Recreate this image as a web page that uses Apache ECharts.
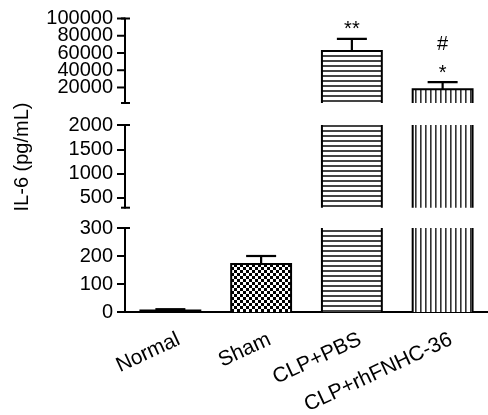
<!DOCTYPE html>
<html>
<head>
<meta charset="utf-8">
<script src="https://cdn.jsdelivr.net/npm/echarts@6/dist/echarts.min.js"></script>
<style>html,body{margin:0;padding:0;background:#fff}#c{width:488px;height:415px}</style>
</head>
<body>
<div id="c"></div>
<script>
const categories = ['Normal', 'Sham', 'CLP+PBS', 'CLP+rhFNHC-36'];
const means = [5, 171, 62300, 18000];
const errors = [5, 29, 14000, 8300];
const annotations = ['', '', '**', '#\n*'];
const lowTicks = [0, 100, 200, 300];
const midTicks = [500, 1000, 1500, 2000];
const topTicks = [20000, 40000, 60000, 80000, 100000];
const lowRange = [0, 300];
const midRange = [300, 2000];
const topRange = [2000, 100000];
const yName = 'IL-6 (pg/mL)';

const FONT = 'Liberation Sans, Arial, sans-serif';

function makeCanvas(w, h, draw) {
  const c = document.createElement('canvas');
  c.width = w; c.height = h;
  const ctx = c.getContext('2d');
  ctx.fillStyle = '#fff'; ctx.fillRect(0, 0, w, h);
  draw(ctx);
  return c;
}
const checker = makeCanvas(6, 6, ctx => { ctx.fillStyle = '#000'; ctx.fillRect(0, 0, 3, 3); ctx.fillRect(3, 3, 3, 3); });
const hStripe = makeCanvas(8, 5, ctx => { ctx.fillStyle = '#444'; ctx.fillRect(0, 0, 8, 2); });
const vStripe = makeCanvas(5, 8, ctx => { ctx.fillStyle = '#333'; ctx.fillRect(0, 0, 1.6, 8); });
const fills = ['#000', { image: checker, repeat: 'repeat' }, { image: hStripe, repeat: 'repeat' }, { image: vStripe, repeat: 'repeat' }];

const data = categories.map((c, i) => [i, means[i], errors[i]]);

const grids = [
  { left: 125, right: -11, top: 228, height: 84 },
  { left: 125, right: -11, top: 125, height: 82.7 },
  { left: 125, right: -11, top: 18.5, height: 84.5 }
];
const ranges = [lowRange, midRange, topRange];
const ticks = [lowTicks, midTicks, topTicks];

const xAxes = grids.map((g, k) => ({
  type: 'category', gridIndex: k, data: categories, show: k === 0,
  axisLine: { lineStyle: { color: '#000', width: 2 } },
  axisTick: { alignWithLabel: true, length: 9, lineStyle: { color: '#000', width: 2 } },
  axisLabel: { show: false }
}));
const yAxes = grids.map((g, k) => ({
  type: 'value', gridIndex: k, min: ranges[k][0], max: ranges[k][1],
  splitLine: { show: false },
  axisLine: { show: true, lineStyle: { color: '#000', width: 2 } },
  axisTick: { show: k < 2, length: 8, lineStyle: { color: '#000', width: 2 }, customValues: ticks[k] },
  axisLabel: { show: k < 2, fontSize: 20, fontFamily: FONT, color: '#000', margin: 12, customValues: ticks[k],
    showMinLabel: true, showMaxLabel: true, formatter: v => String(v) }
}));

function barRender(params, api) {
  const i = api.value(0), v = api.value(1);
  const cs = params.coordSys;
  const p = api.coord([i, v]);
  const w = api.size([1, 0])[0] * 0.66;
  const bottom = cs.y + cs.height + 10;
  const top = Math.max(p[1], cs.y - 10);
  if (top > cs.y + cs.height) return;
  return { type: 'rect', shape: { x: p[0] - w / 2, y: top, width: w, height: bottom - top },
    style: { fill: fills[i], stroke: '#000', lineWidth: 2 } };
}
function errRender(params, api) {
  const i = api.value(0), v = api.value(1), e = api.value(2);
  const a = api.coord([i, v]), b = api.coord([i, v + e]);
  return { type: 'group', children: [
    { type: 'line', shape: { x1: a[0], y1: a[1], x2: b[0], y2: b[1] }, style: { stroke: '#000', lineWidth: 2.2 } },
    { type: 'line', shape: { x1: b[0] - 15, y1: b[1], x2: b[0] + 15, y2: b[1] }, style: { stroke: '#000', lineWidth: 2.2 } }
  ] };
}
function annRender(params, api) {
  const i = api.value(0), v = api.value(1), e = api.value(2);
  const txt = annotations[i];
  if (!txt) return;
  const b = api.coord([i, v + e]);
  const lines = txt.split('\n').reverse();
  return { type: 'group', children: lines.map((t, j) => ({ type: 'text', x: b[0], y: b[1] - 9 - j * 29,
    style: { text: t, fontSize: 20, fontFamily: FONT, fill: '#000', align: 'center', verticalAlign: 'middle' } })) };
}
function xLabelRender(params, api) {
  const i = api.value(0);
  const cs = params.coordSys;
  const p = api.coord([i, 0]);
  return { type: 'text', x: p[0] + 4, y: cs.y + cs.height + 17, rotation: 25 * Math.PI / 180,
    style: { text: categories[i], fontSize: 21, fontFamily: FONT, fill: '#000', align: 'right', verticalAlign: 'top' } };
}
function yTickRender(params, api) {
  const v = api.value(1);
  const cs = params.coordSys;
  const y = api.coord([0, v])[1];
  return { type: 'group', children: [
    { type: 'line', shape: { x1: cs.x - 8, y1: y, x2: cs.x, y2: y }, style: { stroke: '#000', lineWidth: 2 } },
    { type: 'text', x: cs.x - 12, y: y, style: { text: String(v), fontSize: 20, fontFamily: FONT, fill: '#000', align: 'right', verticalAlign: 'middle' } }
  ] };
}
function capRender(k) {
  return function (params, api) {
    const cs = params.coordSys;
    const ys = [cs.y];
    if (k > 0) ys.push(cs.y + cs.height);
    return { type: 'group', children: ys.map(y => ({ type: 'line',
      shape: { x1: cs.x - 4, y1: y, x2: cs.x + 5, y2: y }, style: { stroke: '#000', lineWidth: 2 } })) };
  };
}

const series = [];
grids.forEach((g, k) => {
  series.push({ type: 'custom', xAxisIndex: k, yAxisIndex: k, data: data, clip: true, renderItem: barRender, encode: { x: 0, y: 1 }, z: 2 });
  series.push({ type: 'custom', xAxisIndex: k, yAxisIndex: k, data: data, clip: true, renderItem: errRender, encode: { x: 0, y: 1 }, z: 3 });
  series.push({ type: 'custom', xAxisIndex: k, yAxisIndex: k, data: [[0, ranges[k][0]]], clip: false, renderItem: capRender(k), z: 4 });
});
series.push({ type: 'custom', xAxisIndex: 2, yAxisIndex: 2, data: topTicks.map(v => [0, v]), clip: false, renderItem: yTickRender, encode: { x: 0, y: 1 }, z: 5 });
series.push({ type: 'custom', xAxisIndex: 2, yAxisIndex: 2, data: data, clip: false, renderItem: annRender, encode: { x: 0, y: 1 }, z: 5 });
series.push({ type: 'custom', xAxisIndex: 0, yAxisIndex: 0, data: data, clip: false, renderItem: xLabelRender, encode: { x: 0, y: 1 }, z: 5 });

const chart = echarts.init(document.getElementById('c'), null, { renderer: 'canvas' });
chart.setOption({
  animation: false,
  backgroundColor: '#fff',
  grid: grids,
  xAxis: xAxes,
  yAxis: yAxes,
  series: series,
  graphic: [{ type: 'text', x: 22, y: 157, rotation: Math.PI / 2,
    style: { text: yName, fontSize: 20, fontFamily: FONT, fill: '#000', align: 'center', verticalAlign: 'middle' } }]
});
</script>
</body>
</html>
